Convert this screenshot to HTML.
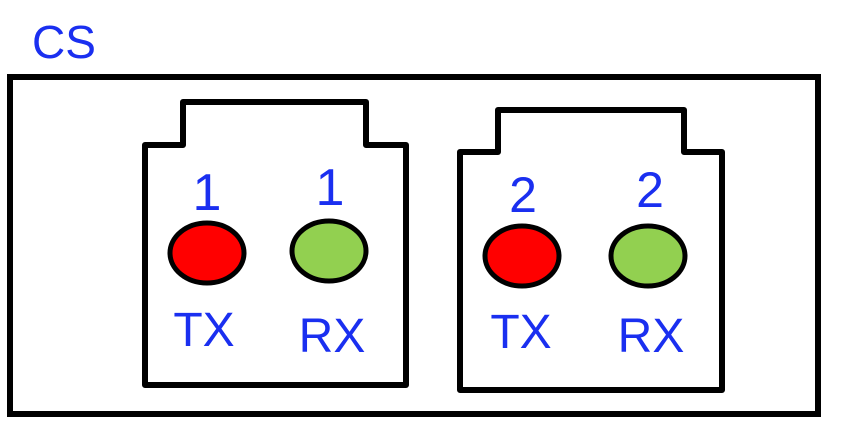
<!DOCTYPE html>
<html><head><style>html,body{margin:0;padding:0;background:#fff}</style></head>
<body>
<svg width="851" height="437" viewBox="0 0 851 437" xmlns="http://www.w3.org/2000/svg" style="display:block">
<rect x="0" y="0" width="851" height="437" fill="#fff"/>
<text x="32" y="58" font-family="Liberation Sans, sans-serif" font-size="46" fill="#1a2ff0">CS</text>
<rect x="10" y="77" width="808" height="337" fill="none" stroke="#000" stroke-width="6"/>
<path d="M145,385 L145,145 L183,145 L183,102 L366,102 L366,145 L406,145 L406,385 Z" fill="none" stroke="#000" stroke-width="6" stroke-linejoin="round"/>
<path d="M460,390 L460,152 L498,152 L498,110 L684,110 L684,152 L722,152 L722,390 Z" fill="none" stroke="#000" stroke-width="6" stroke-linejoin="round"/>
<g font-family="Liberation Sans, sans-serif" fill="#1a2ff0" text-anchor="middle">
<text x="207" y="210" font-size="52">1</text>
<text x="330" y="205" font-size="52">1</text>
<text x="523" y="212" font-size="50">2</text>
<text x="650" y="207" font-size="50">2</text>
<text x="204" y="346" font-size="48">TX</text>
<text x="332" y="352" font-size="48">RX</text>
<text x="521" y="348" font-size="48">TX</text>
<text x="651" y="352" font-size="48">RX</text>
</g>
<ellipse cx="207" cy="253" rx="37" ry="30" fill="#ff0000" stroke="#000" stroke-width="5"/>
<ellipse cx="329" cy="251" rx="37" ry="30" fill="#92d050" stroke="#000" stroke-width="5"/>
<ellipse cx="522" cy="256" rx="37" ry="30" fill="#ff0000" stroke="#000" stroke-width="5"/>
<ellipse cx="648" cy="256" rx="37" ry="30" fill="#92d050" stroke="#000" stroke-width="5"/>
</svg>
</body></html>
